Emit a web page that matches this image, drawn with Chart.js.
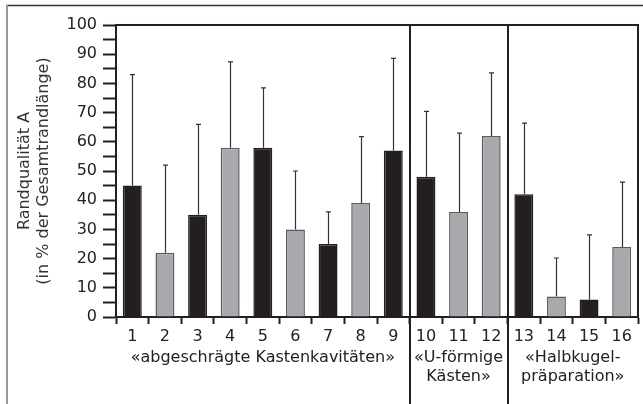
<!DOCTYPE html>
<html>
<head>
<meta charset="utf-8">
<script src="https://cdn.jsdelivr.net/npm/chart.js@4/dist/chart.umd.min.js"></script>
<style>
  html, body { margin: 0; padding: 0; background: #fff; }
  canvas { display: block; }
</style>
</head>
<body>
<canvas id="c" width="643" height="404"></canvas>
<script>
// ---- data ----
const categories = ['1','2','3','4','5','6','7','8','9','10','11','12','13','14','15','16'];
const meanValues = [45, 22, 35, 58, 58, 30, 25, 39, 57, 48, 36, 62, 42, 7, 6, 24];
const errorTop   = [83, 52, 66, 87.4, 78.5, 50, 36, 61.8, 88.6, 70.4, 63, 83.6, 66.4, 20.2, 28.1, 46.2];
const barTone    = ['dark','light','dark','light','dark','light','dark','light','dark','dark','light','light','dark','light','dark','light'];
const groupSizes  = [9, 3, 4];
const groupLabels = [['«abgeschrägte Kastenkavitäten»'], ['«U-förmige', 'Kästen»'], ['«Halbkugel-', 'präparation»']];
const yTitle = ['Randqualität A', '(in % der Gesamtrandlänge)'];

// ---- styles ----
const FONT = 'DejaVu Sans';
const DARK = '#231f20';
const LIGHT = '#a7a9ac';
const LIGHT_BORDER = '#5b5c5e';
const TEXT = '#222';

const decor = {
  id: 'decor',
  beforeDraw(chart) {
    const ctx = chart.ctx;
    ctx.save();
    ctx.fillStyle = '#fff';
    ctx.fillRect(0, 0, chart.width, chart.height);
    ctx.restore();
  },
  afterDraw(chart) {
    const { ctx, chartArea: a, scales: { x, y } } = chart;
    ctx.save();
    // outer frame
    ctx.strokeStyle = '#333';
    ctx.lineWidth = 1.5;
    ctx.beginPath();
    ctx.moveTo(6, 5.5); ctx.lineTo(chart.width, 5.5);
    ctx.stroke();
    ctx.strokeStyle = '#9a9a9a';
    ctx.lineWidth = 2;
    ctx.beginPath();
    ctx.moveTo(7, 5); ctx.lineTo(7, chart.height);
    ctx.stroke();

    // error bars
    const meta = chart.getDatasetMeta(0);
    meta.data.forEach((bar, i) => {
      const yTop = y.getPixelForValue(errorTop[i]);
      const yBar = y.getPixelForValue(meanValues[i]);
      const cx = Math.round(bar.x) + 0.5;
      ctx.strokeStyle = '#333';
      ctx.lineWidth = 1.2;
      ctx.beginPath();
      ctx.moveTo(cx, yBar); ctx.lineTo(cx, yTop);
      ctx.moveTo(cx - 2.5, yTop); ctx.lineTo(cx + 2.5, yTop);
      ctx.stroke();
    });

    // plot frame top & right
    ctx.strokeStyle = DARK;
    ctx.lineWidth = 2;
    ctx.beginPath();
    ctx.moveTo(a.left, a.top); ctx.lineTo(a.right, a.top);
    ctx.lineTo(a.right, a.bottom);
    ctx.stroke();

    // group separators and labels
    const half = (x.getPixelForValue(1) - x.getPixelForValue(0)) / 2;
    let start = 0;
    groupSizes.forEach((n, g) => {
      const left = x.getPixelForValue(start) - half;
      const right = x.getPixelForValue(start + n - 1) + half;
      if (start > 0) {
        ctx.strokeStyle = DARK;
        ctx.lineWidth = 2;
        ctx.beginPath();
        ctx.moveTo(Math.round(left), a.top);
        ctx.lineTo(Math.round(left), chart.height);
        ctx.stroke();
      }
      ctx.fillStyle = TEXT;
      ctx.font = '16px "' + FONT + '"';
      ctx.textAlign = 'center';
      ctx.textBaseline = 'middle';
      groupLabels[g].forEach((line, k) => {
        ctx.fillText(line, (left + right) / 2, 358 + k * 19);
      });
      start += n;
    });
    ctx.restore();
  }
};

new Chart(document.getElementById('c'), {
  type: 'bar',
  data: {
    labels: categories,
    datasets: [{
      data: meanValues,
      backgroundColor: barTone.map(t => t === 'dark' ? DARK : LIGHT),
      borderColor: barTone.map(t => t === 'dark' ? DARK : LIGHT_BORDER),
      borderWidth: 1.5,
      categoryPercentage: 0.58,
      barPercentage: 1
    }]
  },
  options: {
    responsive: false,
    devicePixelRatio: 1,
    animation: false,
    layout: { padding: { left: 0, top: 25, right: 5, bottom: 0 } },
    plugins: { legend: { display: false }, tooltip: { enabled: false } },
    scales: {
      x: {
        offset: true,
        afterFit: s => { s.height = 87; },
        grid: { offset: true, drawOnChartArea: false, tickLength: 7, tickWidth: 2, tickColor: DARK },
        border: { display: true, width: 2, color: DARK },
        ticks: { color: TEXT, font: { family: FONT, size: 16 }, maxRotation: 0, autoSkip: false, padding: 3 }
      },
      y: {
        min: 0, max: 100,
        afterFit: s => { s.width = 116; },
        grid: { drawOnChartArea: false, tickLength: 13, tickWidth: 2, tickColor: DARK },
        border: { display: true, width: 2, color: DARK },
        ticks: {
          stepSize: 5, autoSkip: false, color: TEXT, padding: 6,
          font: { family: FONT, size: 16 },
          callback: v => (v % 10 === 0 ? String(v) : '')
        },
        title: {
          display: true, text: yTitle, color: '#333',
          font: { family: FONT, size: 16, lineHeight: 1.15 },
          padding: { top: 16, bottom: 0 }
        }
      }
    }
  },
  plugins: [decor]
});
</script>
</body>
</html>
